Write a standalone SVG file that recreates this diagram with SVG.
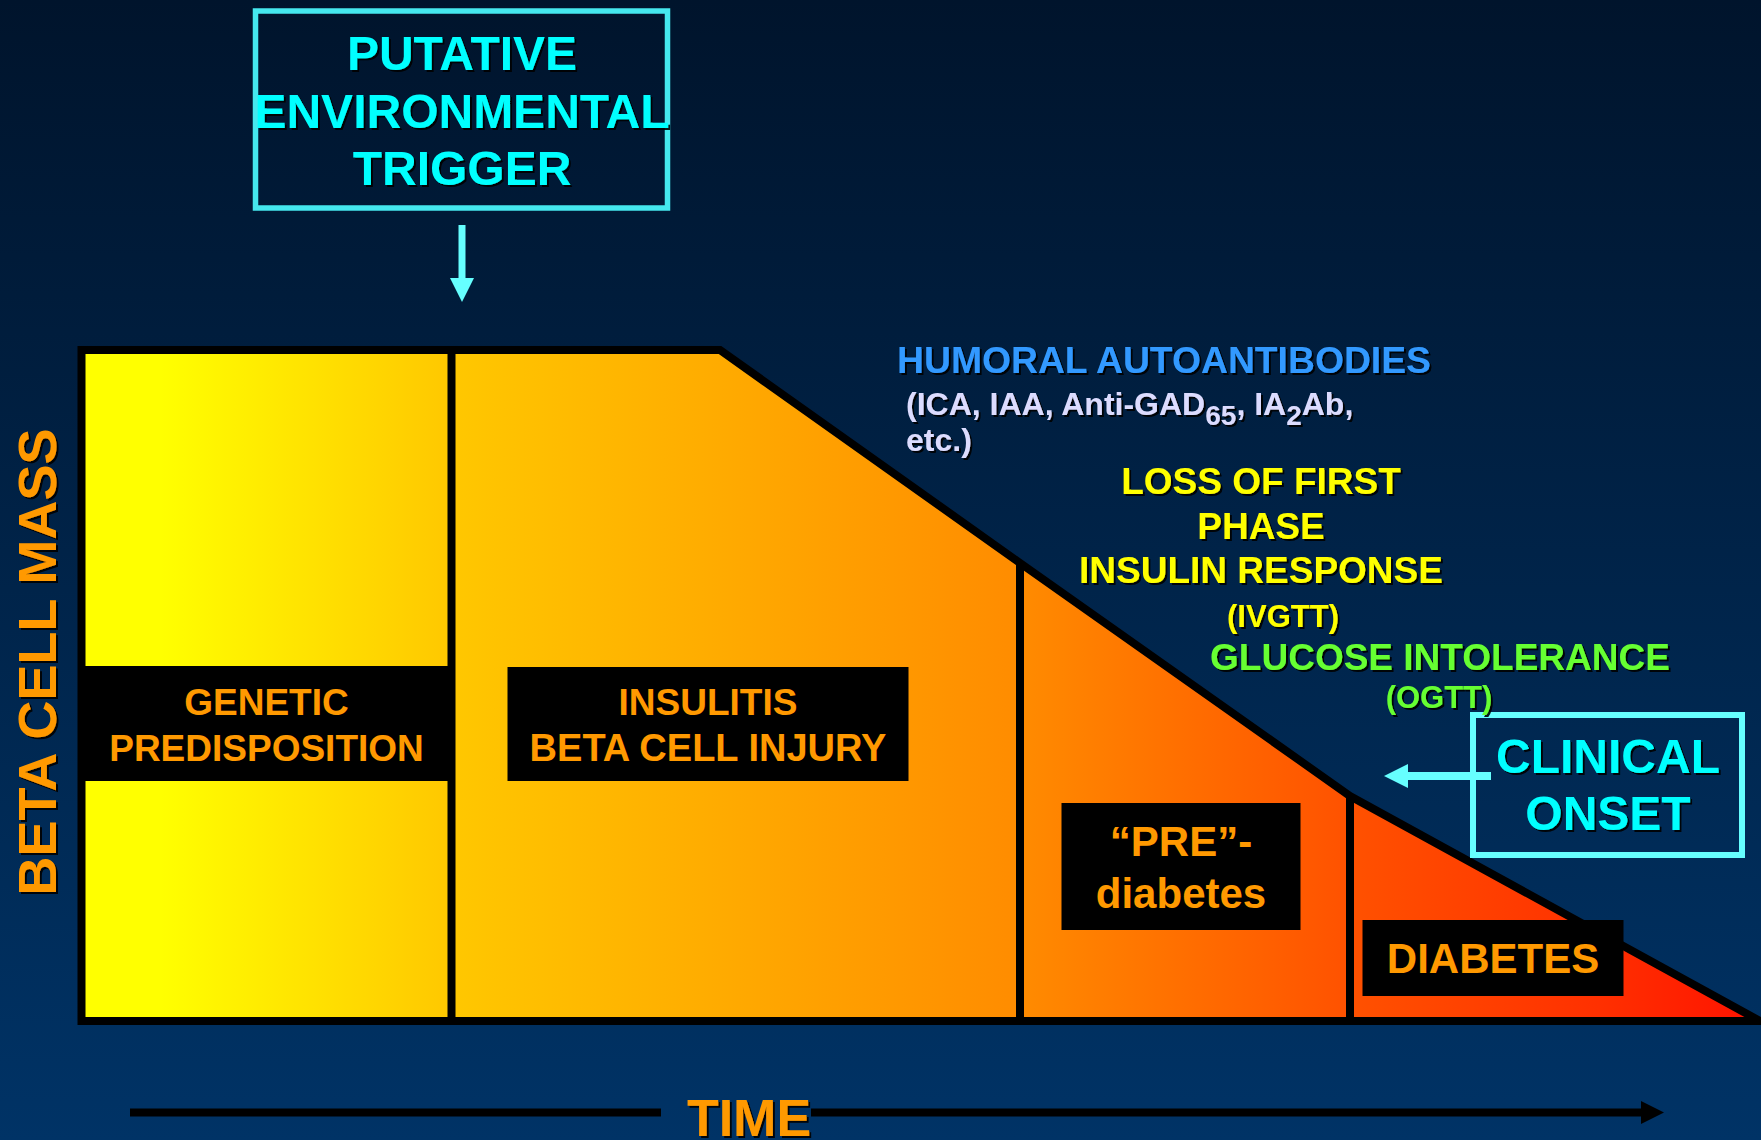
<svg xmlns="http://www.w3.org/2000/svg" width="1761" height="1140" viewBox="0 0 1761 1140">
<defs>
  <linearGradient id="bg" x1="0" y1="0" x2="0" y2="1">
    <stop offset="0" stop-color="#00142c"/>
    <stop offset="1" stop-color="#003366"/>
  </linearGradient>
  <linearGradient id="mass" gradientUnits="userSpaceOnUse" x1="86" y1="0" x2="1750" y2="0">
    <stop offset="0" stop-color="#ffff00"/>
    <stop offset="0.045" stop-color="#ffff00"/>
    <stop offset="0.217" stop-color="#ffc800"/>
    <stop offset="0.381" stop-color="#ffab00"/>
    <stop offset="0.559" stop-color="#ff8c00"/>
    <stop offset="0.757" stop-color="#ff5200"/>
    <stop offset="0.909" stop-color="#ff3000"/>
    <stop offset="1" stop-color="#ff1400"/>
  </linearGradient>
  <filter id="sh" x="-5%" y="-10%" width="110%" height="130%">
    <feDropShadow dx="2" dy="2" stdDeviation="0.4" flood-color="#000" flood-opacity="0.9"/>
  </filter>
  <marker id="ah-cyan" markerUnits="userSpaceOnUse" viewBox="0 0 24 24" markerWidth="24" markerHeight="24" refX="0" refY="12" orient="auto">
    <path d="M0,0 L24,12 L0,24 z" fill="#66ffff"/>
  </marker>
  <marker id="ah-black" markerUnits="userSpaceOnUse" viewBox="0 0 24 24" markerWidth="24" markerHeight="23" refX="0" refY="12" orient="auto">
    <path d="M0,0 L24,12 L0,24 z" fill="#000"/>
  </marker>
  <style>
    text { font-family: "Liberation Sans", Arial, sans-serif; font-weight: bold; }
    .sh { filter: url(#sh); }
    .cyan { fill: #00ffff; }
    .org { fill: #ff9900; }
    .box { fill: #000; }
    .mid { text-anchor: middle; }
    .edge { fill: none; stroke: #000; stroke-width: 8; }
    .cyanarrow { fill: none; stroke: #66ffff; }
  </style>
</defs>

<rect x="0" y="0" width="1761" height="1140" fill="url(#bg)"/>

<!-- beta cell mass area -->
<g id="chart">
  <polygon points="81.5,350 720,350 1020,563 1350,796 1760,1021 81.5,1021" fill="url(#mass)" stroke="#000" stroke-width="8" stroke-linejoin="miter" stroke-miterlimit="10"/>
  <line class="edge" x1="451.5" y1="350" x2="451.5" y2="1021"/>
  <line class="edge" x1="1020" y1="563" x2="1020" y2="1021"/>
  <line class="edge" x1="1350" y1="796" x2="1350" y2="1021"/>
</g>

<g id="node-genetic">
  <rect class="box" x="84" y="666" width="364" height="115"/>
  <text class="org mid" x="266.5" y="715" font-size="37">GENETIC</text>
  <text class="org mid" x="266.5" y="761" font-size="37">PREDISPOSITION</text>
</g>

<g id="node-insulitis">
  <rect class="box" x="507.5" y="667" width="401" height="114"/>
  <text class="org mid" x="708" y="715" font-size="37">INSULITIS</text>
  <text class="org mid" x="708" y="761" font-size="38">BETA CELL INJURY</text>
</g>

<g id="node-prediabetes">
  <rect class="box" x="1061.5" y="803" width="239" height="127"/>
  <text class="org mid" x="1181" y="856" font-size="42">“PRE”-</text>
  <text class="org mid" x="1181" y="908" font-size="42">diabetes</text>
</g>

<g id="node-diabetes">
  <rect class="box" x="1362.5" y="920" width="261" height="76"/>
  <text class="org mid" x="1493" y="973" font-size="42">DIABETES</text>
</g>

<g id="node-trigger">
  <rect x="255.5" y="11" width="412" height="197" fill="none" stroke="#45e8ee" stroke-width="5.5"/>
  <text class="cyan mid sh" x="462" y="70" font-size="48">PUTATIVE</text>
  <text class="cyan mid sh" x="462" y="128" font-size="48">ENVIRONMENTAL</text>
  <text class="cyan mid sh" x="462" y="185" font-size="48">TRIGGER</text>
</g>

<g id="node-clinical-onset">
  <rect x="1473" y="715" width="269" height="140" fill="none" stroke="#66ffff" stroke-width="6"/>
  <text class="cyan mid sh" x="1608" y="773" font-size="48">CLINICAL</text>
  <text class="cyan mid sh" x="1608" y="830" font-size="48">ONSET</text>
</g>

<g id="labels">
  <g class="sh">
    <text x="56" y="662" class="org mid" font-size="54" transform="rotate(-90 56 662)">BETA CELL MASS</text>
  </g>
  <text class="sh" x="897" y="373" font-size="36" fill="#3399ff" textLength="534" lengthAdjust="spacingAndGlyphs">HUMORAL AUTOANTIBODIES</text>
  <text class="sh" x="906" y="415" font-size="32" fill="#dcdcff">(ICA, IAA, Anti-GAD<tspan font-size="28" dy="10">65</tspan><tspan dy="-10">, IA</tspan><tspan font-size="28" dy="10">2</tspan><tspan dy="-10">Ab,</tspan></text>
  <text class="sh" x="906" y="451" font-size="32" fill="#dcdcff">etc.)</text>
  <text class="sh mid" x="1261" y="494" font-size="37" fill="#ffff00">LOSS OF FIRST</text>
  <text class="sh mid" x="1261" y="539" font-size="37" fill="#ffff00">PHASE</text>
  <text class="sh mid" x="1261" y="583" font-size="37" fill="#ffff00">INSULIN RESPONSE</text>
  <text class="sh mid" x="1283" y="627" font-size="31" fill="#ffff00">(IVGTT)</text>
  <text class="sh mid" x="1440" y="670" font-size="37" fill="#66ff33">GLUCOSE INTOLERANCE</text>
  <text class="sh mid" x="1439" y="708" font-size="31" fill="#66ff33">(OGTT)</text>
  <text class="org mid sh" x="749" y="1136" font-size="52">TIME</text>
</g>

<g id="connectors">
  <line class="cyanarrow" x1="462" y1="225" x2="462" y2="278" stroke-width="7" marker-end="url(#ah-cyan)"/>
  <line class="cyanarrow" x1="1491" y1="776" x2="1408" y2="776" stroke-width="8" marker-end="url(#ah-cyan)"/>
  <path d="M130,1112.5 H661 M811,1112.5 H1641" fill="none" stroke="#000" stroke-width="8" marker-end="url(#ah-black)"/>
</g>
</svg>
